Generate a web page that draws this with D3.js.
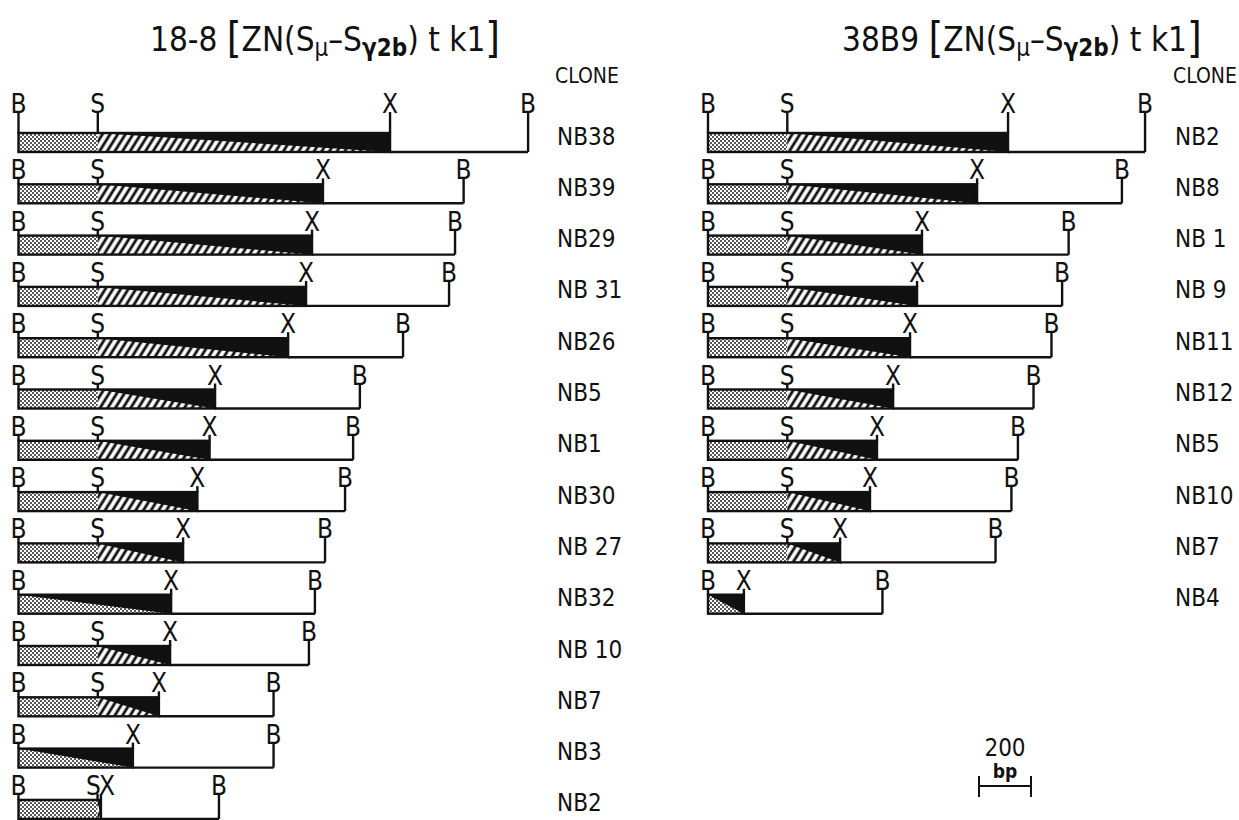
<!DOCTYPE html>
<html>
<head>
<meta charset="utf-8">
<script src="https://cdn.jsdelivr.net/npm/d3@7"></script>
<style>
body { margin: 0; background: #fff; }
text { font-family: "DejaVu Sans Condensed", "DejaVu Sans", sans-serif; fill: #111; }
</style>
</head>
<body>
<script>
// restriction maps, positions in bp from the left BamHI site (null = no S site)
var leftClones = ["NB38", "NB39", "NB29", "NB 31", "NB26", "NB5", "NB1", "NB30", "NB 27", "NB32", "NB 10", "NB7", "NB3", "NB2"];
var leftS = [305, 305, 305, 305, 305, 305, 305, 305, 305, null, 305, 305, null, 304];
var leftX = [1429, 1171, 1129, 1106, 1037, 756, 735, 688, 633, 587, 583, 540, 440, 317];
var leftB = [1960, 1712, 1679, 1656, 1479, 1313, 1287, 1256, 1179, 1140, 1117, 981, 981, 771];

var rightClones = ["NB2", "NB8", "NB 1", "NB 9", "NB11", "NB12", "NB5", "NB10", "NB7", "NB4"];
var rightS = [305, 305, 305, 305, 305, 305, 305, 305, 305, null];
var rightX = [1154, 1035, 823, 804, 777, 712, 650, 623, 508, 138];
var rightB = [1681, 1592, 1387, 1362, 1321, 1252, 1192, 1167, 1106, 671];

var scaleBp = 200;

var width = 1239, height = 820;
var svg = d3.select("body").append("svg")
    .attr("width", width)
    .attr("height", height);

var defs = svg.append("defs");
var stip = defs.append("pattern")
    .attr("id", "stipple")
    .attr("patternUnits", "userSpaceOnUse")
    .attr("width", 4).attr("height", 4);
stip.append("rect").attr("width", 4).attr("height", 4).attr("fill", "#fff");
stip.append("circle").attr("cx", 1).attr("cy", 1).attr("r", 0.95).attr("fill", "#111");
stip.append("circle").attr("cx", 3).attr("cy", 3).attr("r", 0.95).attr("fill", "#111");

var hatch = defs.append("pattern")
    .attr("id", "hatch")
    .attr("patternUnits", "userSpaceOnUse")
    .attr("width", 6.5).attr("height", 6.5)
    .attr("patternTransform", "rotate(32)");
hatch.append("rect").attr("width", 6.5).attr("height", 6.5).attr("fill", "#fff");
hatch.append("line").attr("x1", 2).attr("x2", 2).attr("y1", 0).attr("y2", 6.5)
    .attr("stroke", "#111").attr("stroke-width", 2.8);

var boxH = 19;
var y = d3.scaleLinear().domain([0, 1]).range([133, 184.3]);   // box top per row

function drawPanel(x, clones, sPos, xPos, bPos, labelX) {
  var rows = clones.map(function(c, i) {
    return {name: c, s: sPos[i], x: xPos[i], b: bPos[i], i: i};
  });
  var g = svg.append("g");
  var row = g.selectAll(".row").data(rows).enter().append("g").attr("class", "row");

  // fill left of S (or the whole box when no S)
  row.append("rect")
      .attr("x", function(d) { return x(0); })
      .attr("y", function(d) { return y(d.i); })
      .attr("width", function(d) { return x(d.s == null ? d.x : d.s) - x(0); })
      .attr("height", boxH)
      .attr("fill", "url(#stipple)");
  row.filter(function(d) { return d.s != null; }).append("rect")
      .attr("x", function(d) { return x(d.s); })
      .attr("y", function(d) { return y(d.i); })
      .attr("width", function(d) { return Math.max(0, x(d.x) - x(d.s)); })
      .attr("height", boxH)
      .attr("fill", "url(#hatch)");
  // black wedge
  row.append("path")
      .attr("d", function(d) {
        var t = y(d.i), x0 = x(d.s == null ? 0 : d.s), x1 = x(d.x);
        return "M" + x0 + "," + t + "L" + x1 + "," + t + "L" + x1 + "," + (t + boxH) + "Z";
      })
      .attr("fill", "#111");
  // outline box and tail line
  row.append("rect")
      .attr("x", x(0))
      .attr("y", function(d) { return y(d.i); })
      .attr("width", function(d) { return x(d.x) - x(0); })
      .attr("height", boxH)
      .attr("fill", "none").attr("stroke", "#111").attr("stroke-width", 2.4);
  row.append("line")
      .attr("x1", function(d) { return x(d.x); })
      .attr("x2", function(d) { return x(d.b); })
      .attr("y1", function(d) { return y(d.i) + boxH; })
      .attr("y2", function(d) { return y(d.i) + boxH; })
      .attr("stroke", "#111").attr("stroke-width", 2.4);

  // sites: ticks + letters
  var sites = [];
  rows.forEach(function(d) {
    var base = y(d.i) - (d.i === 0 ? 20 : 5);
    var close = d.s != null && (x(d.x) - x(d.s)) < 10;
    sites.push({k: "B", px: x(0), lx: x(0), base: base, end: y(d.i)});
    if (d.s != null) sites.push({k: "S", px: x(d.s), lx: x(d.s) - (close ? 4 : 0), base: base, end: y(d.i)});
    sites.push({k: "X", px: x(d.x), lx: x(d.x) + (close ? 6 : 0), base: base, end: y(d.i)});
    sites.push({k: "B", px: x(d.b), lx: x(d.b), base: base, end: y(d.i) + boxH});
  });
  g.selectAll(".tick").data(sites).enter().append("line")
      .attr("x1", function(d) { return d.px; })
      .attr("x2", function(d) { return d.px; })
      .attr("y1", function(d) { return d.base - 1; })
      .attr("y2", function(d) { return d.end; })
      .attr("stroke", "#111").attr("stroke-width", 2.4);
  g.selectAll(".site").data(sites).enter().append("text")
      .attr("x", function(d) { return d.lx; })
      .attr("y", function(d) { return d.base; })
      .attr("text-anchor", "middle")
      .attr("font-size", 26)
      .text(function(d) { return d.k; });

  g.selectAll(".clone").data(rows).enter().append("text")
      .attr("x", labelX)
      .attr("y", function(d) { return y(d.i) + 11.5; })
      .attr("font-size", 24)
      .text(function(d) { return d.name; });
  g.append("text").attr("x", labelX - 2).attr("y", 83).attr("font-size", 21).text("CLONE");
}

var xL = d3.scaleLinear().domain([0, 2000]).range([18.5, 538.5]);
var xR = d3.scaleLinear().domain([0, 2000]).range([708, 1228]);

drawPanel(xL, leftClones, leftS, leftX, leftB, 557);
drawPanel(xR, rightClones, rightS, rightX, rightB, 1175);

// titles
function title(tx, prefix) {
  var t = svg.append("text").attr("x", tx).attr("y", 51).attr("font-size", 33);
  t.append("tspan").text(prefix + " ");
  t.append("tspan").attr("font-size", 42).attr("dy", 2).text("[");
  t.append("tspan").attr("dy", -2).text("ZN(S");
  t.append("tspan").attr("font-size", 24).attr("dy", 5).text("\u03bc");
  t.append("tspan").attr("dy", -5).text("\u2013S");
  t.append("tspan").attr("font-size", 24).attr("font-weight", "bold").attr("dy", 5).text("\u03b32b");
  t.append("tspan").attr("dy", -5).text(") t k1");
  t.append("tspan").attr("font-size", 42).attr("dy", 2).text("]");
}
title(150, "18-8");
title(842, "38B9");

// scale bar
var bar = svg.append("g");
var bx0 = 979, bx1 = bx0 + (xR(scaleBp) - xR(0));
bar.append("line").attr("x1", bx0).attr("x2", bx1).attr("y1", 786).attr("y2", 786)
    .attr("stroke", "#111").attr("stroke-width", 2);
[bx0, bx1].forEach(function(v) {
  bar.append("line").attr("x1", v).attr("x2", v).attr("y1", 776).attr("y2", 797)
      .attr("stroke", "#111").attr("stroke-width", 2);
});
bar.append("text").attr("x", (bx0 + bx1) / 2).attr("y", 756).attr("text-anchor", "middle")
    .attr("font-size", 24).text(scaleBp);
bar.append("text").attr("x", (bx0 + bx1) / 2).attr("y", 778).attr("text-anchor", "middle")
    .attr("font-size", 19).attr("font-weight", "bold").text("bp");
</script>
</body>
</html>
